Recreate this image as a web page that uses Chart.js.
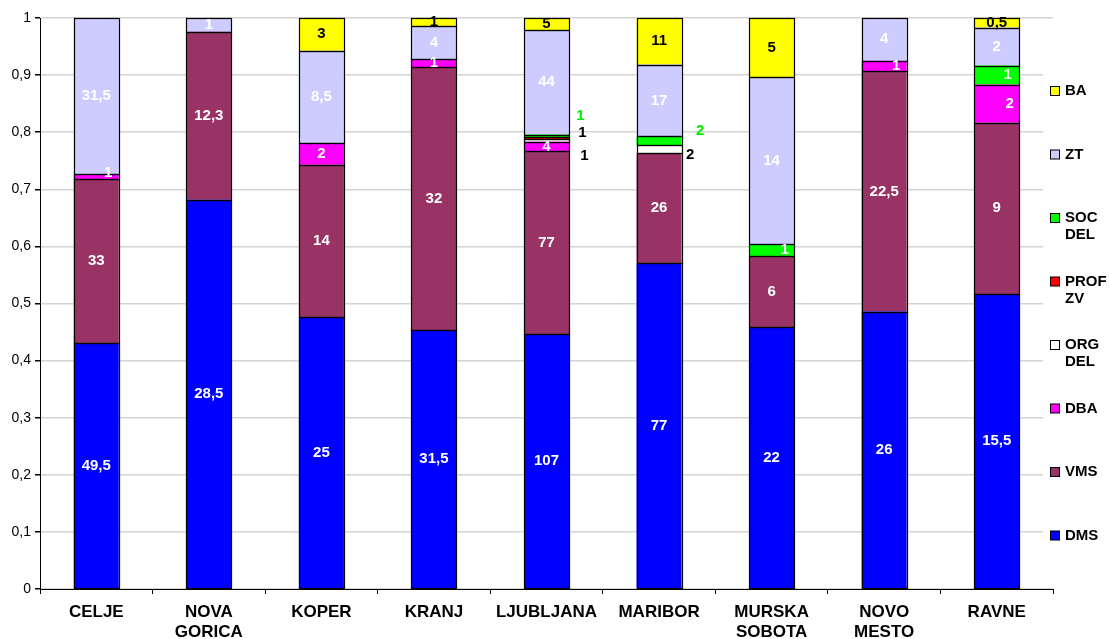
<!DOCTYPE html>
<html>
<head>
<meta charset="utf-8">
<script src="https://cdn.jsdelivr.net/npm/chart.js@4"></script>
<style>
  html, body { margin: 0; padding: 0; background: #fff; }
  #wrap { width: 1109px; height: 639px; }
</style>
</head>
<body>
<div id="wrap"><canvas id="staffChart" width="1109" height="639"></canvas></div>
<script>
// raw counts per unit, shown as labels; bars are drawn as share of each unit's total
const categories = ['CELJE', 'NOVA GORICA', 'KOPER', 'KRANJ', 'LJUBLJANA', 'MARIBOR', 'MURSKA SOBOTA', 'NOVO MESTO', 'RAVNE'];
const seriesNames = ['DMS', 'VMS', 'DBA', 'ORG DEL', 'PROF ZV', 'SOC DEL', 'ZT', 'BA'];
const dms    = [49.5, 28.5, 25, 31.5, 107, 77, 22, 26, 15.5];
const vms    = [33, 12.3, 14, 32, 77, 26, 6, 22.5, 9];
const dba    = [1, 0, 2, 1, 4, 0, 0, 1, 2];
const orgDel = [0, 0, 0, 0, 1, 2, 0, 0, 0];
const profZv = [0, 0, 0, 0, 1, 0, 0, 0, 0];
const socDel = [0, 0, 0, 0, 1, 2, 1, 0, 1];
const zt     = [31.5, 1, 8.5, 4, 44, 17, 14, 4, 2];
const ba     = [0, 0, 3, 1, 5, 11, 5, 0, 0.5];
const yTicks = [0, 0.1, 0.2, 0.3, 0.4, 0.5, 0.6, 0.7, 0.8, 0.9, 1];

const seriesValues = [dms, vms, dba, orgDel, profZv, socDel, zt, ba];
const seriesColors = ['#0000ff', '#993366', '#ff00ff', '#ffffff', '#ff0000', '#00ff00', '#ccccff', '#ffff00'];
const labelColors  = ['#ffffff', '#ffffff', '#ffffff', '#000000', '#000000', '#ffffff', '#ffffff', '#000000'];

// a few labels were nudged aside in the original
const labelTweaks = {
  'DBA:0': { dx: 12, dy: -4 },
  'ORG DEL:4': { dx: 38, dy: 15 },
  'PROF ZV:4': { dx: 36, dy: -5 },
  'SOC DEL:4': { dx: 34, dy: -20, color: '#00ee00' },
  'ORG DEL:5': { dx: 31, dy: 6 },
  'SOC DEL:5': { dx: 41, dy: -10, color: '#00ee00' },
  'SOC DEL:6': { dx: 13 },
  'DBA:7': { dx: 12 },
  'SOC DEL:8': { dx: 11 },
  'DBA:8': { dx: 13 }
};

const totals = categories.map((c, i) => seriesValues.reduce((s, arr) => s + arr[i], 0));
const fmt = v => String(v).replace('.', ',');

const datasets = seriesNames.map((name, k) => ({
  label: name,
  data: seriesValues[k].map((v, i) => v ? v / totals[i] : null),
  raw: seriesValues[k],
  backgroundColor: seriesColors[k],
  borderWidth: 0,
  inflateAmount: 0,
  categoryPercentage: 1,
  barPercentage: 0.4
}));

const FONT = '"Liberation Sans", Arial, sans-serif';

const valueLabels = {
  id: 'valueLabels',
  afterDatasetsDraw(chart) {
    const ctx = chart.ctx;
    ctx.save();
    // black outline round every segment
    ctx.strokeStyle = '#000';
    ctx.lineWidth = 1.2;
    chart.data.datasets.forEach((ds, k) => {
      chart.getDatasetMeta(k).data.forEach((bar, i) => {
        if (!ds.raw[i]) return;
        const l = Math.round(bar.x - bar.width / 2) + 0.5;
        const r = Math.round(bar.x + bar.width / 2) + 0.5;
        const t = Math.round(bar.y) + 0.5;
        const b = Math.round(bar.base) + 0.5;
        ctx.strokeRect(l, t, r - l, b - t);
      });
    });
    ctx.font = 'bold 15px ' + FONT;
    ctx.textAlign = 'center';
    ctx.textBaseline = 'middle';
    chart.data.datasets.forEach((ds, k) => {
      const meta = chart.getDatasetMeta(k);
      meta.data.forEach((bar, i) => {
        const v = ds.raw[i];
        if (!v) return;
        const t = labelTweaks[ds.label + ':' + i] || {};
        ctx.fillStyle = t.color || labelColors[k];
        ctx.fillText(fmt(v), bar.x + (t.dx || 0), (bar.y + bar.base) / 2 + (t.dy || 0));
      });
    });
    ctx.restore();
  }
};

const sideLegend = {
  id: 'sideLegend',
  afterDraw(chart) {
    const ctx = chart.ctx;
    ctx.save();
    ctx.fillStyle = '#fff';
    ctx.fillRect(1043, 30, 66, 550);
    ctx.font = 'bold 15px ' + FONT;
    ctx.textAlign = 'left';
    ctx.textBaseline = 'middle';
    for (let n = 0; n < seriesNames.length; n++) {
      const k = seriesNames.length - 1 - n;
      const y = 91 + n * 63.5;
      ctx.fillStyle = seriesColors[k];
      ctx.fillRect(1050.5, y - 4.5, 9, 9);
      ctx.strokeStyle = '#000';
      ctx.lineWidth = 1;
      ctx.strokeRect(1050.5, y - 4.5, 9, 9);
      ctx.fillStyle = '#000';
      seriesNames[k].split(' ').forEach((w, j) => ctx.fillText(w, 1065, y + j * 17));
    }
    ctx.restore();
  }
};

new Chart(document.getElementById('staffChart'), {
  type: 'bar',
  data: {
    labels: categories.map(c => c.split(' ')),
    datasets: datasets
  },
  options: {
    responsive: false,
    animation: false,
    layout: { padding: { top: 18, right: 56, left: 0, bottom: 0 } },
    plugins: { legend: { display: false }, tooltip: { enabled: false } },
    scales: {
      x: {
        stacked: true,
        offset: true,
        grid: { offset: true, drawOnChartArea: false, tickLength: 5, tickColor: '#000' },
        border: { color: '#000' },
        ticks: { color: '#000', font: { family: FONT, size: 17, weight: 'bold', lineHeight: 1.18 }, padding: 8, maxRotation: 0, autoSkip: false },
        afterFit(scale) { scale.height = 50; }
      },
      y: {
        stacked: true,
        min: 0,
        max: 1,
        afterBuildTicks(scale) { scale.ticks = yTicks.map(v => ({ value: v })); },
        grid: { color: '#d4d4d4', tickLength: 5, tickColor: '#000', lineWidth: 1.5 },
        border: { color: '#000' },
        ticks: { color: '#000', font: { family: FONT, size: 14 }, padding: 4, callback: v => fmt(Math.round(v * 10) / 10) },
        afterFit(scale) { scale.width = 40; }
      }
    }
  },
  plugins: [valueLabels, sideLegend]
});
</script>
</body>
</html>
